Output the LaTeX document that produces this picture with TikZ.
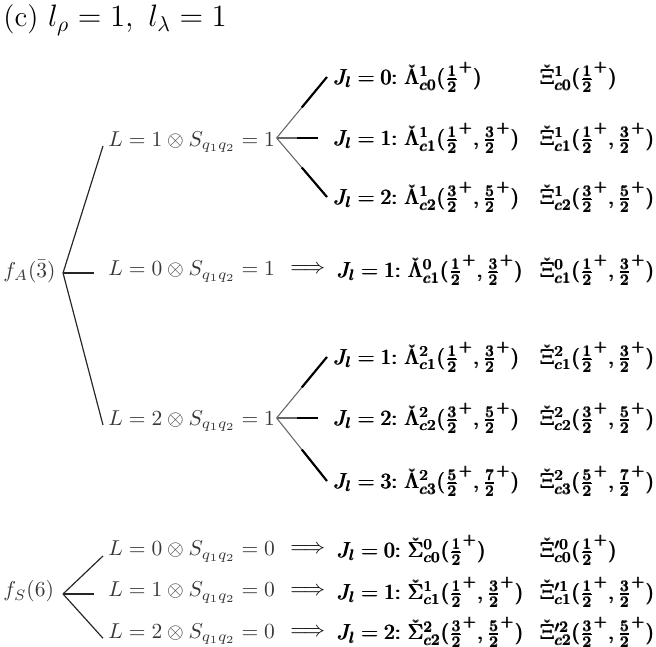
\documentclass[tikz,border=0pt]{standalone}
\usepackage{amsmath,amssymb}
\usepackage{xcolor}
\usepackage{tikz}

\begin{document}
\begin{tikzpicture}[
		spin/.style={anchor=base west, inner xsep=2.3pt, inner ysep=0pt, text=black!78},
		flav/.style={anchor=base west, inner sep=0pt, text=black!78},
		state/.style={anchor=west, inner xsep=3pt},
		imply/.style={inner sep=0pt},
		stem/.style={draw=black!85, line width=0.55pt},
		twig/.style={draw=black!60, line width=0.5pt},
		tip/.style={draw=black, line width=1pt}
	]
		\useasboundingbox (0,0) rectangle (10.72,-10.56);

		\node[anchor=base west, inner sep=0pt, font=\fontsize{13.6}{16}\selectfont] (title) at (0.05,-0.44) {(c) $l_\rho=1,~l_\lambda=1$};

		% antisymmetric flavour
		\node[flav] (fA) at (0.05,-4.53) {$f_A(\bar{3})$};
		\coordinate (fAo) at (1.03,-4.46);
		\node[spin] (L1) at (1.683,-2.386) {$L=1\otimes S_{q_1q_2}=1$};
		\node[spin] (L0) at (1.683,-4.51) {$L=0\otimes S_{q_1q_2}=1$};
		\node[spin] (L2) at (1.683,-6.945) {$L=2\otimes S_{q_1q_2}=1$};
		\coordinate (L1o) at (4.52,-2.255);
		\coordinate (L2o) at (4.52,-6.83);

		\node[state] (J10) at (5.343,-1.258) {$\pmb{J_l=0{:}\ \check{\Lambda}^1_{c0}(\frac{1}{2}^+)}$};
		\node[state] (J11) at (5.343,-2.255) {$\pmb{J_l=1{:}\ \check{\Lambda}^1_{c1}(\frac{1}{2}^+,\frac{3}{2}^+)}$};
		\node[state] (J12) at (5.343,-3.219) {$\pmb{J_l=2{:}\ \check{\Lambda}^1_{c2}(\frac{3}{2}^+,\frac{5}{2}^+)}$};
		\node[state] (X10) at (8.72,-1.258) {$\pmb{\check{\Xi}^1_{c0}(\frac{1}{2}^+)}$};
		\node[state] (X11) at (8.72,-2.255) {$\pmb{\check{\Xi}^1_{c1}(\frac{1}{2}^+,\frac{3}{2}^+)}$};
		\node[state] (X12) at (8.72,-3.219) {$\pmb{\check{\Xi}^1_{c2}(\frac{3}{2}^+,\frac{5}{2}^+)}$};

		\node[imply] (I01) at (5.03,-4.412) {$\Longrightarrow$};
		\node[state] (J01) at (5.40,-4.412) {$\pmb{J_l=1{:}\ \check{\Lambda}^0_{c1}(\frac{1}{2}^+,\frac{3}{2}^+)}$};
		\node[state] (X01) at (8.72,-4.412) {$\pmb{\check{\Xi}^0_{c1}(\frac{1}{2}^+,\frac{3}{2}^+)}$};

		\node[state] (J20) at (5.343,-5.833) {$\pmb{J_l=1{:}\ \check{\Lambda}^2_{c1}(\frac{1}{2}^+,\frac{3}{2}^+)}$};
		\node[state] (J21) at (5.343,-6.830) {$\pmb{J_l=2{:}\ \check{\Lambda}^2_{c2}(\frac{3}{2}^+,\frac{5}{2}^+)}$};
		\node[state] (J22) at (5.343,-7.860) {$\pmb{J_l=3{:}\ \check{\Lambda}^2_{c3}(\frac{5}{2}^+,\frac{7}{2}^+)}$};
		\node[state] (X20) at (8.72,-5.833) {$\pmb{\check{\Xi}^2_{c1}(\frac{1}{2}^+,\frac{3}{2}^+)}$};
		\node[state] (X21) at (8.72,-6.830) {$\pmb{\check{\Xi}^2_{c2}(\frac{3}{2}^+,\frac{5}{2}^+)}$};
		\node[state] (X22) at (8.72,-7.860) {$\pmb{\check{\Xi}^2_{c3}(\frac{5}{2}^+,\frac{7}{2}^+)}$};

		% symmetric flavour
		\node[flav] (fS) at (0.05,-9.755) {$f_S(6)$};
		\coordinate (fSo) at (1.03,-9.706);
		\node[spin] (S0) at (1.683,-9.085) {$L=0\otimes S_{q_1q_2}=0$};
		\node[spin] (S1) at (1.683,-9.755) {$L=1\otimes S_{q_1q_2}=0$};
		\node[spin] (S2) at (1.683,-10.43) {$L=2\otimes S_{q_1q_2}=0$};

		\node[imply] (IS0) at (5.03,-8.987) {$\Longrightarrow$};
		\node[imply] (IS1) at (5.03,-9.673) {$\Longrightarrow$};
		\node[imply] (IS2) at (5.03,-10.33) {$\Longrightarrow$};
		\node[state] (JS0) at (5.40,-8.987) {$\pmb{J_l=0{:}\ \check{\Sigma}^0_{c0}(\frac{1}{2}^+)}$};
		\node[state] (JS1) at (5.40,-9.673) {$\pmb{J_l=1{:}\ \check{\Sigma}^1_{c1}(\frac{1}{2}^+,\frac{3}{2}^+)}$};
		\node[state] (JS2) at (5.40,-10.33) {$\pmb{J_l=2{:}\ \check{\Sigma}^2_{c2}(\frac{3}{2}^+,\frac{5}{2}^+)}$};
		\node[state] (XS0) at (8.72,-8.987) {$\pmb{\check{\Xi}^{\prime 0}_{c0}(\frac{1}{2}^+)}$};
		\node[state] (XS1) at (8.72,-9.673) {$\pmb{\check{\Xi}^{\prime 1}_{c1}(\frac{1}{2}^+,\frac{3}{2}^+)}$};
		\node[state] (XS2) at (8.72,-10.33) {$\pmb{\check{\Xi}^{\prime 2}_{c2}(\frac{3}{2}^+,\frac{5}{2}^+)}$};

		\foreach \l in {L1,L2} {
				\draw[stem] (fAo) -- (\l.base west);
			}
		\draw[stem] (fAo) -- ([xshift=-4pt]fAo -| L0.west);
		\foreach \l in {S0,S2} {
				\draw[stem] (fSo) -- (\l.base west);
			}
		\draw[stem] (fSo) -- ([xshift=-4pt]fSo -| S1.west);

		\foreach \o/\j/\s in {L1o/J10/0pt, L1o/J11/-4pt, L1o/J12/0pt, L2o/J20/0pt, L2o/J21/-4pt, L2o/J22/0pt} {
				\draw[twig] (\o) -- ([xshift=\s]\j.west) coordinate[pos=0.5] (mid);
				\draw[tip] (mid) -- ([xshift=\s]\j.west);
			}
	\end{tikzpicture}
\end{document}
